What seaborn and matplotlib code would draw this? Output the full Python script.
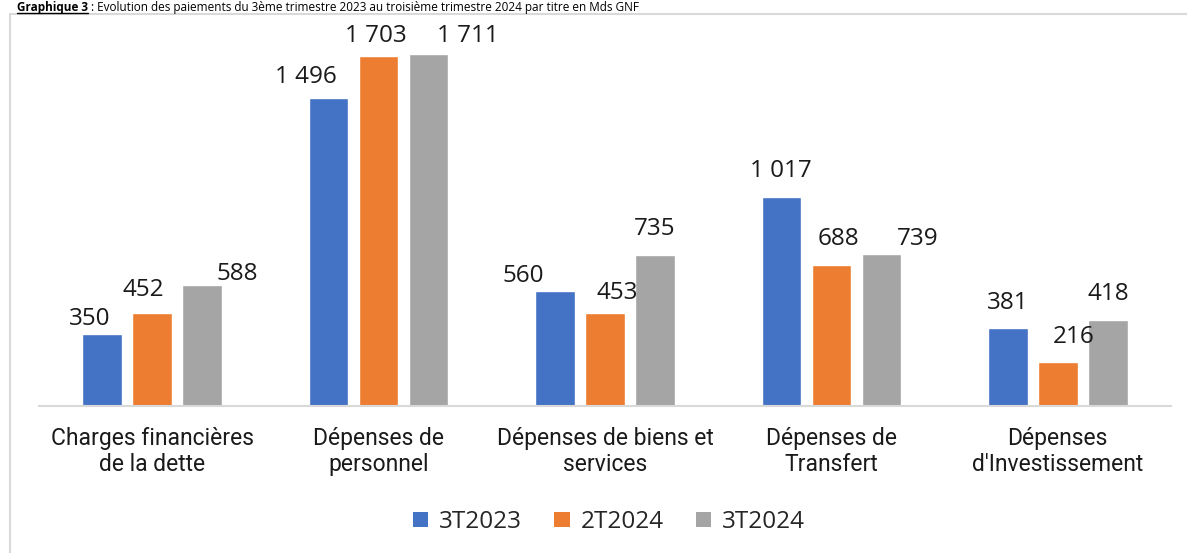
import matplotlib
matplotlib.use("Agg")
import matplotlib.pyplot as plt
import seaborn as sns
import pandas as pd
from matplotlib import font_manager as fm
from matplotlib.lines import Line2D
from matplotlib.patches import Rectangle, Patch

# ---------------- data ----------------
categories = [
    "Charges financières\nde la dette",
    "Dépenses de\npersonnel",
    "Dépenses de biens et\nservices",
    "Dépenses de\nTransfert",
    "Dépenses\nd'Investissement",
]
series = ["3T2023", "2T2024", "3T2024"]
v_3t2023 = [350, 1496, 560, 1017, 381]
v_2t2024 = [452, 1703, 453, 688, 216]
v_3t2024 = [588, 1711, 735, 739, 418]
values = [v_3t2023, v_2t2024, v_3t2024]
colors = ["#4472C4", "#ED7D31", "#A5A5A5"]

title_a = "Graphique 3"
title_b = " : Evolution des paiements du 3ème trimestre 2023 au troisième trimestre 2024 par titre en Mds GNF"

# label offsets in pixels (style: label placement relative to bar top)
lab_dx = [[-12, -23, -32, 0, 0], [-9, -3, 12, 7, 16], [35, 39, 0, 36, 0]]
lab_dy = [[15, 21, 15, 26, 25], [23, 20, 20, 26, 25], [11, 18, 26, 15, 26]]

# ---------------- fonts ----------------
avail = {f.name for f in fm.fontManager.ttflist}
num_font = ["Open Sans", "DejaVu Sans"]
cat_font = (["Liberation Sans Narrow", "DejaVu Sans"] if "Liberation Sans Narrow" in avail
            else ["Roboto", "DejaVu Sans"])

sns.set_theme(style="white")
plt.rcParams["font.family"] = num_font

rows = []
for s, vals in zip(series, values):
    for c, v in zip(categories, vals):
        rows.append({"cat": c, "serie": s, "val": v})
df = pd.DataFrame(rows)

W, H = 1187, 553
fig = plt.figure(figsize=(W / 100, H / 100), dpi=100)
ax = fig.add_axes([39 / W, 147 / H, 1132 / W, 370 / H])

sns.barplot(data=df, x="cat", y="val", hue="serie", palette=colors,
            width=0.663, gap=0.21, ax=ax, legend=False, saturation=1,
            errorbar=None, order=categories, hue_order=series)

ax.set_xlim(-0.5, 4.5)
ax.set_ylim(0, 1800)
ax.set_xlabel("")
ax.set_ylabel("")
ax.set_yticks([])
for sp in ["top", "right", "left"]:
    ax.spines[sp].set_visible(False)
ax.spines["bottom"].set_color("#d9d9d9")
ax.spines["bottom"].set_linewidth(1.5)
ax.tick_params(axis="x", length=0, pad=15)
ax.set_xticks(range(len(categories)))
ax.set_xticklabels(categories, fontsize=16.5, family=cat_font, color="#1a1a1a",
                   linespacing=1.2)
ax.patch.set_alpha(0)

def fmt(v):
    return f"{v:,}".replace(",", " ")

for i, cont in enumerate(ax.containers):
    for j, bar in enumerate(cont):
        h = bar.get_height()
        ax.annotate(fmt(int(round(h))),
                    xy=(bar.get_x() + bar.get_width() / 2, h),
                    xytext=(lab_dx[i][j] * 0.72, lab_dy[i][j] * 0.72),
                    textcoords="offset points", ha="center", va="center",
                    fontsize=17.5, color="#1a1a1a", family=num_font)

handles = [Patch(facecolor=c, edgecolor="none") for c in colors]
fig.legend(handles, series, loc="center", bbox_to_anchor=(609 / W, 31 / H),
           ncol=3, frameon=False, handlelength=0.62, handleheight=0.62,
           handletextpad=0.45, columnspacing=1.35,
           prop={"family": num_font, "size": 17.5})

# chart frame
fig.patches.append(Rectangle((10 / W, -0.1), 1.2, (H - 14) / H + 0.1,
                             transform=fig.transFigure, fill=False,
                             edgecolor="#d9d9d9", linewidth=1.5, clip_on=False))

# title strip at the top
ta = fig.text(17 / W, 1 - 11 / H, title_a, ha="left", va="baseline", fontsize=8.5,
              weight="bold", color="black", family=num_font)
fig.canvas.draw()
bb = ta.get_window_extent(fig.canvas.get_renderer())
x_end = bb.x1 / W
fig.add_artist(Line2D([17 / W, x_end], [1 - 12.5 / H, 1 - 12.5 / H], color="black",
                      linewidth=1.0, transform=fig.transFigure))
fig.text(x_end, 1 - 11 / H, title_b, ha="left", va="baseline", fontsize=8.5,
         color="black", family=num_font)

fig.savefig("out.png", dpi=100)
